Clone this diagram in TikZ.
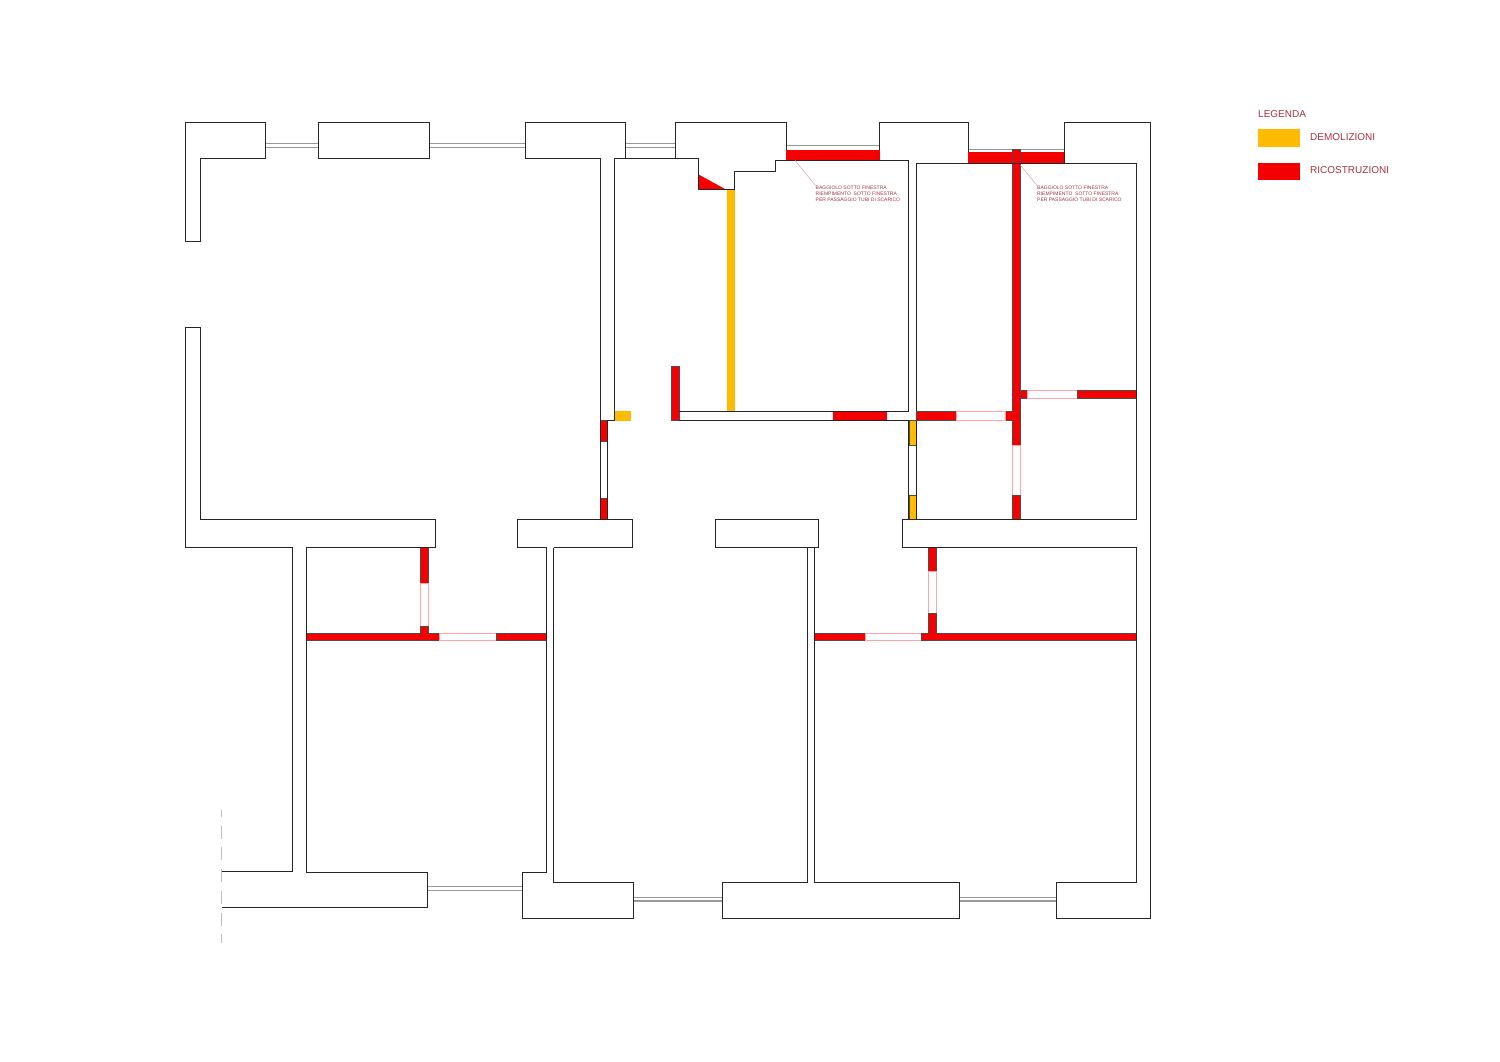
\documentclass[tikz,border=0pt]{standalone}
\usepackage{fontspec}
\setmainfont{Liberation Sans}
\definecolor{rossomuro}{RGB}{245,0,0}
\definecolor{gialloLeg}{RGB}{255,187,0}
\definecolor{testoLeg}{RGB}{165,50,65}
\tikzset{
  muro/.style={draw=black!85, line width=1pt},
  vetro/.style={draw=black!40, line width=1.1pt},
  vetrino/.style={draw=black!40, line width=.8pt},
  nuovo/.style={fill=rossomuro, draw=black!70, line width=.7pt},
  pieno/.style={fill=rossomuro},
  demolito/.style={fill=gialloLeg},
  demolbordo/.style={fill=gialloLeg, draw=black!70, line width=.7pt},
  varco/.style={fill=white, draw=red!35, line width=.9pt},
  nota/.style={font=\fontsize{5}{6.1}\selectfont, text=testoLeg, align=left, anchor=north west, inner sep=0pt},
  leg/.style={font=\fontsize{10}{12}\selectfont, text=testoLeg, anchor=west, inner sep=0pt},
  richiamo/.style={draw=testoLeg!45, line width=.5pt},
  swatch/.style={minimum width=42pt, inner sep=0pt, outer sep=0pt}
}
\begin{document}
\begin{tikzpicture}[x=1pt,y=-1pt]
    \useasboundingbox (0,0) rectangle (1500,1061);

    \draw[vetro] (265.7,143.7) -- (318.3,143.7);
    \draw[vetrino] (265.7,147.7) -- (318.3,147.7);
    \draw[vetro] (429.3,143.7) -- (525.7,143.7);
    \draw[vetrino] (429.3,147.7) -- (525.7,147.7);
    \draw[vetro] (625.3,143.7) -- (675,143.7);
    \draw[vetrino] (625.3,147.7) -- (675,147.7);
    \draw[vetro] (786,145.7) -- (879.5,145.7);
    \draw[vetro] (968.3,149.3) -- (1064.7,149.3);
    \draw[vetrino] (427.3,886.7) -- (522.3,886.7);
    \draw[vetro] (427.3,890.3) -- (522.3,890.3);
    \draw[vetrino] (633.3,897.3) -- (722.3,897.3);
    \draw[vetro] (633.3,901) -- (722.3,901);
    \draw[vetrino] (959.3,897.3) -- (1056,897.3);
    \draw[vetro] (959.3,901) -- (1056,901);

    \fill[pieno] (786,149.7) rectangle (879.5,160.3);
    \fill[pieno] (968.3,151.7) rectangle (1064.7,163);
    \fill[pieno] (698.3,174.3) -- (725,189) -- (698.3,189) -- cycle;
    \fill[demolito] (726.7,189) rectangle (735,411);
    \fill[demolito] (614.3,411) rectangle (630.7,420.7);

    \filldraw[nuovo] (1012.7,149.3) rectangle (1020.3,445);
    \filldraw[nuovo] (1005.7,411) rectangle (1012.7,420.7);
    \fill[pieno] (1005,411.5) rectangle (1016,420.2);
    \filldraw[nuovo] (1020.3,390.7) rectangle (1027.3,398.3);
    \draw[varco] (1027.3,390.7) rectangle (1077,398.3);
    \filldraw[nuovo] (1077,390.7) rectangle (1136.3,398.3);
    \draw[varco] (1012.7,445) rectangle (1020.3,495);
    \filldraw[nuovo] (1012.7,495) rectangle (1020.3,519);
    \filldraw[nuovo] (671.3,366.7) rectangle (679,420.7);
    \fill[pieno] (833,411.5) rectangle (887.3,420.2);
    \filldraw[nuovo] (916,411) rectangle (956,420.7);
    \draw[varco] (956,411) rectangle (1005.7,420.7);
    \filldraw[demolbordo] (909,420.7) rectangle (916,445);
    \filldraw[demolbordo] (909,495) rectangle (916,519);
    \filldraw[nuovo] (600,420.7) rectangle (607.3,441.3);
    \filldraw[nuovo] (600,498) rectangle (607.3,519);

    \filldraw[nuovo] (420.7,547.7) rectangle (428,583.7);
    \draw[varco] (420.7,583.7) rectangle (428,626.3);
    \filldraw[nuovo] (420.7,626.3) rectangle (428,636);
    \filldraw[nuovo] (306.7,633.3) rectangle (439.7,640.7);
    \fill[pieno] (421.2,630) rectangle (427.5,636);
    \draw[varco] (439.7,633.3) rectangle (496.3,640.7);
    \filldraw[nuovo] (496.3,633.3) rectangle (546.7,640.7);

    \filldraw[nuovo] (928.7,547.7) rectangle (936.7,571);
    \draw[varco] (928.7,571) rectangle (936.7,613.3);
    \filldraw[nuovo] (928.7,613.3) rectangle (936.7,636);
    \filldraw[nuovo] (814.7,633.3) rectangle (865,640.7);
    \draw[varco] (865,633.3) rectangle (921.7,640.7);
    \filldraw[nuovo] (921.7,633.3) rectangle (1136.3,640.7);
    \fill[pieno] (929.2,630) rectangle (936.2,636);

    \draw[muro] (265.7,143.7) -- (265.7,122.5) -- (185.5,122.5) -- (185.5,241) -- (200,241) -- (200,158.3) -- (265.7,158.3) -- (265.7,143.7);
    \draw[muro] (318.3,122.5) rectangle (429.3,158.3);
    \draw[muro] (600,519) -- (600,158.3) -- (525.7,158.3) -- (525.7,122.5) -- (625.3,122.5) -- (625.3,158.3);
    \draw[muro] (607.3,519) -- (607.3,420.7) -- (614.3,420.7) -- (614.3,158.3) -- (698.3,158.3) -- (698.3,189) -- (734.3,189) -- (734.3,171) -- (775.3,171) -- (775.3,160.3) -- (908.7,160.3) -- (908.7,411) -- (679,411);
    \draw[muro] (675,158.3) -- (675,122.5) -- (786,122.5) -- (786,149.7);
    \draw[muro] (879.5,149.7) -- (879.5,122.5) -- (968.3,122.5) -- (968.3,151.7);
    \draw[muro] (1064.7,163) -- (1064.7,122.5) -- (1150.3,122.5) -- (1150.3,918.5) -- (1056,918.5) -- (1056,882.7) -- (1136.3,882.7) -- (1136.3,547.7) -- (902.3,547.7) -- (902.3,519) -- (1136.3,519) -- (1136.3,163) -- (916,163) -- (916,411);
    \draw[muro] (679,420.7) -- (908.7,420.7) -- (908.7,519);
    \draw[muro] (916,420.7) -- (916,519);
    \draw[muro] (185.5,327) -- (200,327) -- (200,519) -- (435,519) -- (435,547.7) -- (306.7,547.7) -- (306.7,872) -- (427.3,872) -- (427.3,907.7) -- (221.7,907.7);
    \draw[muro] (185.5,327) -- (185.5,547.7) -- (292.3,547.7) -- (292.3,871.7) -- (221.7,871.7);
    \draw[muro] (546.7,547.7) -- (546.7,872) -- (522.3,872) -- (522.3,918.3) -- (633.3,918.3) -- (633.3,882.7) -- (553.7,882.7) -- (553.7,547.7);
    \draw[muro] (546.7,547.7) -- (517.3,547.7) -- (517.3,519) -- (632.3,519) -- (632.3,547.7) -- (553.7,547.7);
    \draw[muro] (715.7,519) rectangle (818.3,547.7);
    \draw[muro] (807.3,547.7) -- (807.3,882.7) -- (722.3,882.7) -- (722.3,918.5) -- (959.3,918.5) -- (959.3,882.7) -- (814.7,882.7) -- (814.7,547.7);

    \draw[black!25, line width=1.1pt, dash pattern=on 13pt off 8.7pt, dash phase=6pt] (221.7,810) -- (221.7,943);

    \node[nota] (notaA) at (815.5,185.6) {BAGGIOLO SOTTO FINESTRA\\RIEMPIMENTO\ \ SOTTO FINESTRA\\PER PASSAGGIO TUBI DI SCARICO};
    \node[nota] (notaB) at (1037,185.6) {BAGGIOLO SOTTO FINESTRA\\RIEMPIMENTO\ \ SOTTO FINESTRA\\PER PASSAGGIO TUBI DI SCARICO};
    \coordinate (puntoA) at (795,160.3);
    \coordinate (puntoB) at (1020.3,165);
    \draw[richiamo] (puntoA) -- (notaA.north west);
    \draw[richiamo] (puntoB) -- (notaB.north west);

    \node[leg] (legenda) at (1258,114) {LEGENDA};
    \node[swatch, fill=gialloLeg, minimum height=18pt, anchor=north west] (boxdemo) at (1258.3,129) {};
    \node[swatch, fill=rossomuro, minimum height=17.5pt, anchor=north west] (boxrico) at (1258.3,162.7) {};
    \node[leg] (demo) at (1310,136.7) {DEMOLIZIONI};
    \node[leg] (rico) at (1310,170) {RICOSTRUZIONI};
\end{tikzpicture}
\end{document}
